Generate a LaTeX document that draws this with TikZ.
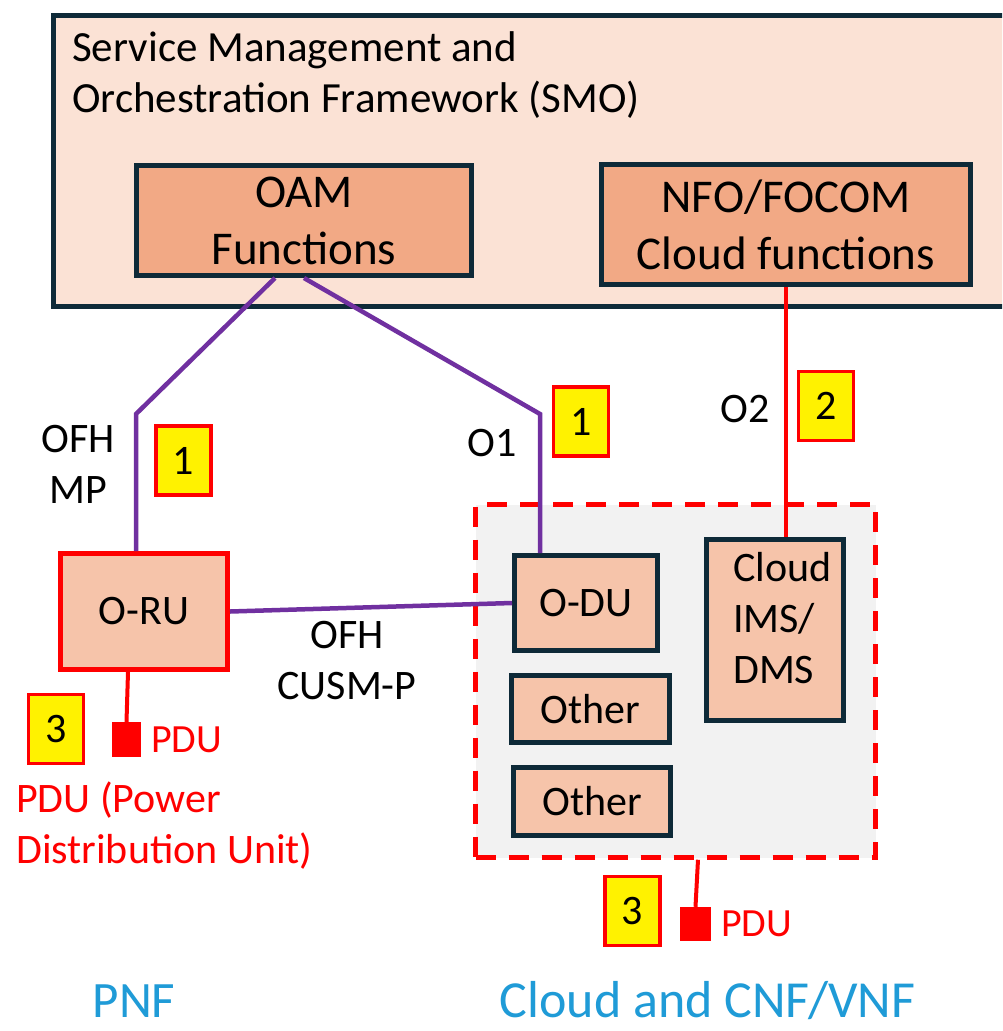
\documentclass[tikz,border=0pt]{standalone}
\usepackage{fontspec}
\setmainfont{Carlito}
\definecolor{smofill}{HTML}{FBE2D5}
\definecolor{funcfill}{HTML}{F2A985}
\definecolor{nffill}{HTML}{F6C4AA}
\definecolor{edgedark}{HTML}{0E2A38}
\definecolor{ifpurple}{HTML}{7030A0}
\definecolor{cloudgrey}{HTML}{F2F2F2}
\definecolor{pnfblue}{HTML}{1F9BD7}
\newcommand{\setpx}[2]{\fontsize{#1}{#2}\selectfont}
\begin{document}
\begin{tikzpicture}[x=1pt,y=-1pt,
  smobox/.style={draw=edgedark,line width=5pt,fill=smofill,inner sep=0pt},
  funcbox/.style={draw=edgedark,line width=5pt,fill=funcfill,align=center,inner sep=2pt,font=\setpx{47}{57}},
  nfbox/.style={draw=edgedark,line width=5pt,fill=nffill,inner sep=2pt,font=\setpx{42}{51}},
  rubox/.style={draw=red,line width=5pt,fill=nffill,inner sep=2pt,font=\setpx{42}{51}},
  cloudarea/.style={draw=red,line width=4.5pt,dash pattern=on 20pt off 13pt,fill=cloudgrey,inner sep=0pt},
  numtag/.style={draw=red,line width=3.5pt,fill=yellow,minimum width=55pt,minimum height=69pt,inner sep=0pt,font=\setpx{42}{51}},
  pdusq/.style={fill=red,inner sep=0pt},
  oline/.style={ifpurple,line width=4.5pt},
  pline/.style={red,line width=4pt},
  txt/.style={inner sep=0pt,font=\setpx{42}{51}},
]
\clip (0,0) rectangle (1002,1031);
\fill[white] (0,0) rectangle (1002,1031);
% Draw the SMO frame
\node[smobox,minimum width=956.5pt,minimum height=291pt] (smo) at (531.75,161) {};
\node[txt,anchor=base west,align=left,font=\setpx{43}{51}] (smotitle) at (72,112) {Service Management and\\Orchestration Framework (SMO)};
\node[funcbox,minimum width=335pt,minimum height=110pt] (oam) at (304,220.5) {OAM\\Functions};
\node[funcbox,minimum width=369pt,minimum height=120pt] (nfo) at (786,224.5) {NFO/FOCOM\\Cloud functions};
% Draw the cloud site
\node[cloudarea,minimum width=400pt,minimum height=353pt] (cloudsite) at (675.5,681) {};
\node[nfbox,minimum width=143pt,minimum height=95pt] (odu) at (586,603) {O-DU};
\node[nfbox,minimum width=137pt,minimum height=181pt] (ims) at (775,630) {};
\node[txt,anchor=base west,align=left] (imstxt) at (733,683) {Cloud\\IMS/\\DMS};
\node[nfbox,minimum width=158pt,minimum height=67pt] (other1) at (590.5,709) {Other};
\node[nfbox,minimum width=157pt,minimum height=68pt] (other2) at (592,801.5) {Other};
% Draw the radio unit
\node[rubox,minimum width=167pt,minimum height=116pt] (oru) at (144,611.5) {O-RU};
% Draw the interface lines
\coordinate (mpbend) at (136,414);
\coordinate (o1bend) at (540,414);
\draw[oline] ([xshift=-29pt]oam.south) -- (mpbend) -- (mpbend |- oru.north);
\draw[oline] (oam.south) -- (o1bend) -- (o1bend |- odu.north);
\draw[oline] (oru.east) -- (odu.west);
\draw[pline] (nfo.south) -- (nfo.south |- ims.north);
\node[txt,align=center,anchor=base] (mplab) at (78,503) {OFH\\MP};
\node[txt,anchor=base] (o1lab) at (492,456) {O1};
\node[txt,anchor=base] (o2lab) at (745,422) {O2};
\node[txt,align=center,anchor=base] (cusmlab) at (347,699) {OFH\\CUSM-P};
% Draw the number tags
\node[numtag] (tagmp) at (183.5,460.5) {1};
\node[numtag] (tago1) at (581,421.5) {1};
\node[numtag] (tago2) at (826,406) {2};
\node[numtag] (tagpdul) at (56,729) {3};
\node[numtag] (tagpdur) at (632.5,911) {3};
% Draw the power units
\node[pdusq,minimum width=29pt,minimum height=35pt] (pdul) at (126.5,739.5) {};
\node[pdusq,minimum width=31pt,minimum height=34pt] (pdur) at (695.5,924) {};
\draw[pline] ([xshift=-16pt]oru.south) -- (pdul.north);
\draw[pline] ([xshift=22.5pt]cloudsite.south) -- (pdur.north);
\node[txt,red,anchor=base west,font=\setpx{40}{51}] (pdutxtl) at (151,752) {PDU};
\node[txt,red,anchor=base west,font=\setpx{40}{51}] (pdutxtr) at (721,936) {PDU};
\node[txt,red,anchor=base west,align=left] (pdunote) at (16,863) {PDU (Power\\Distribution Unit)};
% Draw the bottom captions
\node[txt,pnfblue,anchor=base,font=\setpx{51}{60}] (pnf) at (134,1017) {PNF};
\node[txt,pnfblue,anchor=base,font=\setpx{52}{60}] (cnf) at (707.5,1017) {Cloud and CNF/VNF};
\end{tikzpicture}
\end{document}
